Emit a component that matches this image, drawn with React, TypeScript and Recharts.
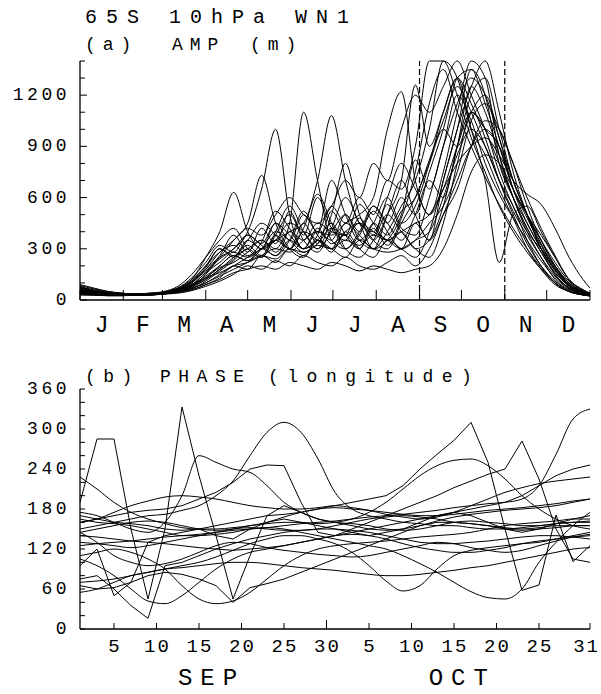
import React from 'react'
import { LineChart, Line, XAxis, YAxis, ReferenceLine } from 'recharts'

// ---- panel (a): amplitude of wave number 1, one line per year ----
const AMP_DAYS = [0, 10, 20, 30, 40, 50, 60, 70, 80, 90, 100, 110, 120, 130, 140, 150, 160, 170, 180, 190, 200, 210, 220, 230, 240, 250, 260, 270, 280, 290, 300, 310, 320, 330, 340, 350, 360, 365]

const amp01 = [60, 45, 35, 30, 30, 35, 40, 60, 90, 140, 200, 260, 230, 300, 260, 350, 300, 420, 330, 380, 300, 450, 380, 520, 600, 820, 1050, 1250, 1100, 900, 700, 520, 380, 250, 140, 70, 40, 30]
const amp02 = [80, 55, 40, 35, 35, 40, 50, 80, 150, 250, 350, 420, 300, 250, 380, 500, 350, 280, 420, 600, 450, 300, 500, 700, 500, 350, 700, 1000, 1350, 1200, 800, 600, 450, 300, 180, 90, 50, 40]
const amp03 = [40, 35, 30, 30, 30, 35, 45, 70, 110, 180, 250, 300, 400, 650, 1000, 500, 300, 350, 450, 300, 250, 350, 500, 400, 300, 250, 450, 800, 1100, 1000, 900, 650, 500, 350, 200, 100, 50, 35]
const amp04 = [30, 30, 25, 25, 30, 30, 40, 55, 80, 120, 180, 250, 300, 350, 280, 450, 1100, 700, 350, 300, 400, 550, 450, 350, 500, 700, 600, 900, 1200, 1300, 1000, 700, 500, 300, 180, 80, 40, 30]
const amp05 = [50, 40, 35, 30, 30, 35, 40, 50, 70, 100, 150, 200, 250, 300, 350, 400, 450, 700, 1080, 700, 450, 400, 600, 800, 650, 500, 750, 1100, 1400, 1300, 850, 600, 400, 250, 120, 60, 35, 25]
const amp06 = [35, 30, 30, 30, 35, 40, 45, 60, 90, 130, 160, 200, 220, 260, 300, 280, 350, 400, 380, 450, 500, 600, 1000, 1220, 700, 500, 650, 900, 1100, 1000, 750, 550, 400, 300, 200, 100, 50, 30]
const amp07 = [70, 50, 40, 35, 30, 30, 35, 50, 80, 150, 250, 350, 450, 730, 450, 300, 250, 350, 300, 250, 350, 300, 280, 300, 350, 400, 600, 850, 1000, 900, 700, 550, 350, 200, 100, 50, 30, 25]
const amp08 = [45, 40, 35, 30, 30, 30, 40, 60, 120, 250, 400, 630, 400, 300, 350, 450, 400, 300, 400, 500, 350, 300, 400, 550, 700, 1000, 1400, 1300, 1000, 850, 650, 480, 300, 180, 90, 50, 30, 25]
const amp09 = [90, 70, 50, 40, 35, 35, 40, 45, 60, 90, 120, 160, 180, 200, 180, 220, 200, 180, 220, 200, 170, 200, 180, 160, 180, 200, 300, 500, 750, 850, 800, 650, 500, 380, 250, 120, 60, 40]
const amp10 = [55, 45, 40, 35, 35, 35, 40, 55, 90, 160, 220, 280, 250, 300, 350, 300, 400, 350, 300, 400, 450, 350, 500, 700, 1260, 900, 1100, 1300, 1000, 700, 220, 500, 550, 400, 250, 120, 60, 40]
const amp11 = [40, 35, 30, 30, 30, 35, 40, 50, 70, 100, 140, 180, 220, 260, 240, 300, 280, 320, 300, 350, 320, 380, 350, 400, 450, 500, 650, 800, 900, 950, 850, 700, 620, 560, 420, 250, 120, 70]
const amp12 = [65, 50, 40, 35, 30, 35, 45, 70, 120, 200, 300, 250, 350, 300, 450, 350, 500, 400, 550, 450, 600, 500, 700, 650, 900, 1400, 1400, 1200, 950, 750, 550, 400, 280, 180, 100, 50, 30, 25]
const amp13 = [30, 28, 25, 25, 28, 30, 35, 45, 60, 90, 130, 200, 180, 260, 220, 300, 260, 350, 280, 400, 300, 250, 350, 300, 250, 400, 700, 1000, 1250, 1400, 1100, 750, 500, 300, 150, 70, 35, 25]
const amp14 = [75, 60, 45, 35, 30, 30, 35, 45, 65, 110, 170, 230, 300, 250, 400, 550, 400, 300, 500, 800, 500, 350, 300, 450, 600, 800, 1000, 900, 1100, 1200, 950, 650, 450, 300, 170, 80, 40, 30]
const amp15 = [50, 40, 35, 30, 30, 30, 35, 40, 55, 80, 110, 150, 200, 180, 230, 200, 260, 220, 200, 250, 200, 180, 220, 260, 200, 300, 500, 700, 900, 1000, 900, 700, 500, 350, 220, 110, 50, 35]
const amp16 = [40, 38, 35, 32, 30, 32, 40, 60, 100, 180, 280, 350, 420, 380, 500, 600, 500, 450, 550, 700, 600, 800, 700, 1000, 1200, 1100, 1250, 1400, 1200, 1000, 800, 600, 420, 280, 150, 70, 35, 28]
const amp17 = [60, 48, 40, 35, 32, 35, 40, 55, 85, 130, 190, 220, 280, 350, 300, 400, 350, 450, 400, 380, 450, 400, 350, 300, 350, 450, 550, 750, 1050, 1150, 1000, 800, 550, 350, 200, 90, 45, 30]
const amp18 = [85, 65, 50, 40, 35, 38, 45, 70, 130, 220, 320, 280, 380, 330, 450, 380, 300, 400, 350, 500, 400, 550, 450, 600, 500, 750, 1000, 1300, 1350, 1150, 900, 650, 480, 320, 180, 85, 40, 30]
const amp19 = [50, 42, 36, 32, 30, 32, 38, 55, 90, 160, 260, 380, 280, 420, 330, 520, 380, 600, 420, 350, 480, 380, 560, 420, 380, 600, 900, 1200, 1050, 800, 620, 480, 350, 230, 130, 65, 35, 28]
const amp20 = [38, 34, 30, 28, 28, 30, 36, 48, 75, 120, 180, 240, 320, 260, 380, 300, 450, 330, 520, 380, 300, 420, 320, 480, 750, 1150, 1350, 1100, 900, 720, 560, 420, 300, 190, 100, 50, 30, 22]
const amp21 = [72, 55, 42, 36, 32, 34, 40, 58, 100, 190, 300, 260, 350, 450, 380, 300, 420, 620, 450, 300, 380, 520, 400, 300, 450, 350, 500, 650, 900, 1050, 1000, 800, 600, 420, 260, 120, 55, 35]
const amp22 = [45, 40, 34, 30, 30, 33, 42, 65, 110, 200, 280, 320, 260, 340, 520, 420, 300, 380, 700, 500, 350, 450, 600, 450, 550, 800, 1100, 1300, 1150, 950, 700, 500, 330, 200, 110, 55, 30, 24]
const amp23 = [58, 46, 38, 33, 31, 34, 40, 52, 80, 130, 200, 260, 230, 300, 400, 350, 280, 330, 420, 380, 560, 450, 350, 400, 300, 350, 550, 900, 1250, 1100, 850, 600, 420, 280, 160, 80, 40, 30]
const amp24 = [62, 50, 42, 36, 33, 36, 44, 62, 105, 170, 240, 300, 380, 320, 260, 350, 520, 380, 300, 450, 380, 300, 350, 500, 820, 650, 900, 1150, 1300, 1200, 950, 700, 500, 330, 190, 90, 45, 32]

const AMP_LINES = [amp01, amp02, amp03, amp04, amp05, amp06, amp07, amp08, amp09, amp10, amp11, amp12,
  amp13, amp14, amp15, amp16, amp17, amp18, amp19, amp20, amp21, amp22, amp23, amp24]

const MONTH_START = [0, 31, 59, 90, 120, 151, 181, 212, 243, 273, 304, 334, 365]
const MONTH_LETTERS = ['J', 'F', 'M', 'A', 'M', 'J', 'J', 'A', 'S', 'O', 'N', 'D']
const MONTH_MID = MONTH_LETTERS.map((_, i) => (MONTH_START[i] + MONTH_START[i + 1]) / 2)
const AMP_TICKS = [0, 100, 200, 300, 400, 500, 600, 700, 800, 900, 1000, 1100, 1200, 1300, 1400]
const AMP_LABELED = [0, 300, 600, 900, 1200]
const WINDOW = [243, 304] // 1 Sep and 1 Nov, the span shown in (b)

// ---- panel (b): phase (longitude), 1 Sep .. 31 Oct ----
const PHASE_DAYS = [0, 2, 4, 6, 8, 10, 12, 14, 16, 18, 20, 22, 24, 26, 28, 30, 32, 34, 36, 38, 40, 42, 44, 46, 48, 50, 52, 54, 56, 58, 60]

const ph01 = [150, 155, 160, 165, 170, 172, 178, 185, 200, 222, 260, 295, 310, 295, 255, 205, 180, 170, 165, 160, 158, 155, 155, 152, 150, 150, 152, 155, 158, 160, 160]
const ph02 = [190, 285, 285, 150, 45, 150, 333, 230, 140, 45, 110, 170, 185, 175, 165, 160, 155, 150, 148, 150, 155, 160, 160, 158, 155, 150, 148, 150, 152, 155, 155]
const ph03 = [170, 165, 160, 158, 155, 150, 148, 150, 155, 160, 165, 170, 172, 175, 180, 185, 190, 195, 200, 215, 240, 262, 283, 310, 250, 150, 58, 66, 171, 101, 125]
const ph04 = [110, 115, 120, 115, 105, 90, 65, 45, 38, 42, 55, 75, 95, 110, 120, 125, 128, 130, 132, 135, 138, 140, 142, 145, 150, 155, 158, 160, 162, 165, 165]
const ph05 = [105, 95, 80, 60, 42, 38, 50, 70, 90, 105, 115, 120, 125, 130, 135, 140, 142, 140, 135, 128, 122, 118, 115, 115, 118, 122, 128, 132, 135, 138, 140]
const ph06 = [75, 80, 60, 35, 16, 95, 100, 110, 120, 128, 135, 140, 145, 148, 150, 150, 148, 145, 140, 135, 130, 128, 128, 130, 132, 135, 138, 140, 140, 138, 135]
const ph07 = [165, 160, 158, 155, 150, 145, 140, 140, 142, 145, 150, 152, 150, 145, 140, 135, 130, 125, 120, 110, 98, 85, 70, 56, 47, 45, 60, 100, 130, 155, 175]
const ph08 = [70, 72, 75, 80, 85, 90, 95, 100, 108, 118, 128, 135, 140, 140, 135, 128, 115, 95, 72, 57, 65, 90, 110, 118, 122, 125, 128, 130, 135, 140, 145]
const ph09 = [175, 170, 160, 150, 145, 160, 200, 260, 250, 240, 235, 215, 190, 175, 165, 160, 158, 155, 150, 148, 150, 155, 160, 162, 160, 158, 155, 155, 158, 160, 162]
const ph10 = [160, 165, 170, 175, 178, 180, 185, 195, 205, 220, 240, 246, 245, 190, 145, 140, 145, 150, 155, 160, 165, 170, 175, 180, 185, 190, 200, 215, 230, 240, 246]
const ph11 = [125, 128, 130, 132, 135, 138, 140, 142, 145, 148, 150, 152, 155, 158, 160, 162, 165, 168, 170, 172, 175, 178, 182, 185, 188, 190, 195, 215, 262, 315, 330]
const ph12 = [140, 138, 135, 132, 130, 128, 125, 122, 120, 118, 120, 122, 125, 130, 135, 140, 150, 160, 170, 180, 190, 200, 212, 222, 232, 240, 282, 225, 150, 105, 100]
const ph13 = [145, 150, 155, 160, 162, 160, 155, 150, 148, 150, 155, 158, 160, 160, 158, 160, 165, 175, 190, 210, 230, 245, 253, 255, 245, 225, 200, 180, 165, 155, 150]
const ph14 = [55, 60, 70, 80, 85, 90, 92, 95, 98, 100, 100, 98, 95, 92, 90, 88, 85, 82, 80, 80, 82, 85, 88, 92, 95, 100, 105, 110, 115, 120, 122]
const ph15 = [65, 60, 62, 70, 80, 85, 82, 75, 65, 40, 62, 68, 75, 85, 95, 105, 115, 125, 135, 145, 155, 162, 168, 172, 175, 178, 180, 182, 185, 190, 195]
const ph16 = [130, 128, 125, 122, 125, 130, 135, 140, 145, 150, 152, 150, 148, 148, 150, 155, 160, 165, 168, 170, 168, 165, 160, 158, 155, 152, 150, 152, 155, 155, 155]
const ph17 = [160, 165, 175, 185, 192, 198, 200, 198, 195, 190, 185, 182, 180, 180, 182, 185, 182, 178, 172, 168, 165, 168, 175, 185, 195, 205, 212, 218, 222, 225, 228]
const ph18 = [145, 130, 110, 100, 95, 98, 105, 115, 125, 130, 128, 122, 118, 115, 112, 110, 108, 110, 115, 120, 125, 130, 128, 122, 118, 115, 118, 125, 132, 138, 142]
const ph19 = [228, 210, 190, 175, 165, 158, 152, 150, 150, 152, 155, 160, 168, 175, 180, 182, 180, 178, 175, 172, 170, 170, 172, 175, 178, 180, 182, 185, 188, 192, 195]
const ph20 = [95, 120, 50, 70, 130, 140, 145, 150, 140, 135, 150, 160, 165, 160, 155, 150, 145, 140, 145, 150, 160, 170, 175, 170, 160, 150, 145, 150, 158, 165, 170]

const PHASE_LINES = [ph01, ph02, ph03, ph04, ph05, ph06, ph07, ph08, ph09, ph10, ph11, ph12, ph13, ph14, ph15, ph16, ph17, ph18, ph19, ph20]
// noisy years are drawn with straight segments
const PHASE_CURVE = ['monotone', 'linear', 'linear', 'monotone', 'monotone', 'linear', 'monotone', 'monotone', 'monotone', 'linear',
  'monotone', 'linear', 'monotone', 'monotone', 'linear', 'monotone', 'monotone', 'monotone', 'monotone', 'linear']

const PHASE_TICKS = [0, 20, 40, 60, 80, 100, 120, 140, 160, 180, 200, 220, 240, 260, 280, 300, 320, 340, 360]
const PHASE_LABELED = [0, 60, 120, 180, 240, 300, 360]
const DAY_TICKS = [4, 9, 14, 19, 24, 29, 34, 39, 44, 49, 54, 60]
const DAY_LABELS = ['5', '10', '15', '20', '25', '30', '5', '10', '15', '20', '25', '31']
const MONTH_NAME_AT = [15, 44.5]
const MONTH_NAMES = ['SEP', 'OCT']

const ampData = AMP_DAYS.map((day, i) => {
  const row: Record<string, number> = { day }
  AMP_LINES.forEach((s, k) => { row['a' + k] = s[i] })
  return row
})
const phaseData = PHASE_DAYS.map((day, i) => {
  const row: Record<string, number> = { day }
  PHASE_LINES.forEach((s, k) => { row['p' + k] = s[i] })
  return row
})

const FONT = '"Liberation Mono", "DejaVu Sans Mono", monospace'
const AXIS = { stroke: '#000', strokeWidth: 1.3 }
const NUM = { fontFamily: FONT, fontSize: 18, letterSpacing: 3.5, fill: '#000' }

const AmpLeftTick = ({ x, y, payload }: any) => {
  const v = payload.value
  const lab = AMP_LABELED.includes(v)
  return (
    <g>
      <line x1={x} x2={x + (lab ? 7 : 5)} y1={y} y2={y} stroke="#000" />
      {lab && <text x={x - 10} y={y} textAnchor="end" dominantBaseline="central" style={NUM}>{v}</text>}
    </g>
  )
}
const PhaseLeftTick = ({ x, y, payload }: any) => {
  const v = payload.value
  const lab = PHASE_LABELED.includes(v)
  return (
    <g>
      <line x1={x} x2={x + 5} y1={y} y2={y} stroke="#000" />
      {lab && <text x={x - 10} y={y} textAnchor="end" dominantBaseline="central" style={NUM}>{v}</text>}
    </g>
  )
}
const RightTick = ({ x, y }: any) => <line x1={x} x2={x - 5} y1={y} y2={y} stroke="#000" />
const TopTick = ({ x, y, payload }: any) => (
  <line x1={x} x2={x} y1={y} y2={y + (payload.value === 29 ? 9 : MONTH_START.includes(payload.value) ? 10 : 6)} stroke="#000" />
)

const MonthTick = ({ x, y, payload }: any) => {
  const m = MONTH_MID.indexOf(payload.value)
  if (m >= 0) {
    return <text x={x} y={y + 26} textAnchor="middle" dominantBaseline="central" style={{ fontFamily: FONT, fontSize: 23, fill: '#000' }}>{MONTH_LETTERS[m]}</text>
  }
  return <line x1={x} x2={x} y1={y} y2={y - 10} stroke="#000" />
}

const DayTick = ({ x, y, payload }: any) => {
  const v = payload.value
  const m = MONTH_NAME_AT.indexOf(v)
  if (m >= 0) {
    return <text x={x + 4} y={y + 49} textAnchor="middle" dominantBaseline="central" style={{ fontFamily: FONT, fontSize: 24, letterSpacing: 8, fill: '#000' }}>{MONTH_NAMES[m]}</text>
  }
  const i = DAY_TICKS.indexOf(v)
  const last = i === DAY_TICKS.length - 1
  return (
    <g>
      <line x1={x} x2={x} y1={y} y2={y - (v === 29 ? 9 : 6)} stroke="#000" />
      <text x={last ? x + 10 : x + 1} y={y + 18} textAnchor={last ? 'end' : 'middle'} dominantBaseline="central"
        style={{ fontFamily: FONT, fontSize: 19, letterSpacing: 2, fill: '#000' }}>{DAY_LABELS[i]}</text>
    </g>
  )
}

const HEAD = { fontFamily: FONT, fill: '#000' }

export default function App() {
  return (
    <div style={{ position: 'absolute', left: 0, top: 0, width: 601, height: 694, background: '#fff' }}>
      <div style={{ position: 'absolute', left: 0, top: 0 }}>
        <LineChart width={601} height={345} data={ampData} margin={{ top: 61, right: 11, bottom: 15, left: 40 }}>
          <XAxis dataKey="day" type="number" domain={[0, 365]} ticks={[...MONTH_START, ...MONTH_MID].sort((a, b) => a - b)}
            interval={0} tickSize={0} tickMargin={0} height={30} axisLine={AXIS} tickLine={false} tick={<MonthTick />} />
          <XAxis xAxisId="top" orientation="top" type="number" domain={[0, 365]} ticks={MONTH_START} interval={0}
            tickSize={0} tickMargin={0} height={0} axisLine={AXIS} tickLine={false} tick={<TopTick />} />
          <YAxis type="number" domain={[0, 1400]} ticks={AMP_TICKS} interval={0} width={40} tickSize={0} tickMargin={0}
            axisLine={AXIS} tickLine={false} tick={<AmpLeftTick />} />
          <YAxis yAxisId="right" orientation="right" type="number" domain={[0, 1400]} ticks={AMP_TICKS} interval={0} width={0}
            tickSize={0} tickMargin={0} axisLine={AXIS} tickLine={false} tick={<RightTick />} />
          {AMP_LINES.map((_, k) => (
            <Line key={k} dataKey={'a' + k} type="monotone" stroke="#000" strokeWidth={1} dot={false} isAnimationActive={false} />
          ))}
          {WINDOW.map(d => <ReferenceLine key={d} x={d} stroke="#000" strokeWidth={1.2} strokeDasharray="6 3" />)}
        </LineChart>
      </div>
      <div style={{ position: 'absolute', left: 0, top: 345 }}>
        <LineChart width={601} height={349} data={phaseData} margin={{ top: 44, right: 11, bottom: 35, left: 40 }}>
          <XAxis dataKey="day" type="number" domain={[0, 60]} ticks={[...DAY_TICKS, ...MONTH_NAME_AT].sort((a, b) => a - b)}
            interval={0} tickSize={0} tickMargin={0} height={30} axisLine={AXIS} tickLine={false} tick={<DayTick />} />
          <XAxis xAxisId="top" orientation="top" type="number" domain={[0, 60]} ticks={DAY_TICKS} interval={0}
            tickSize={0} tickMargin={0} height={0} axisLine={AXIS} tickLine={false} tick={<TopTick />} />
          <YAxis type="number" domain={[0, 360]} ticks={PHASE_TICKS} interval={0} width={40} tickSize={0} tickMargin={0}
            axisLine={AXIS} tickLine={false} tick={<PhaseLeftTick />} />
          <YAxis yAxisId="right" orientation="right" type="number" domain={[0, 360]} ticks={PHASE_TICKS} interval={0} width={0}
            tickSize={0} tickMargin={0} axisLine={AXIS} tickLine={false} tick={<RightTick />} />
          {PHASE_LINES.map((_, k) => (
            <Line key={k} dataKey={'p' + k} type={PHASE_CURVE[k] as any} stroke="#000" strokeWidth={1} dot={false} isAnimationActive={false} />
          ))}
        </LineChart>
      </div>
      <svg width={601} height={694} style={{ position: 'absolute', left: 0, top: 0, pointerEvents: 'none' }}>
        <text x={85} y={23} style={{ ...HEAD, fontSize: 20, letterSpacing: 9 }}>65S 10hPa WN1</text>
        <text x={85} y={50} style={{ ...HEAD, fontSize: 18, letterSpacing: 7 }}>(a)</text>
        <text x={172} y={50} style={{ ...HEAD, fontSize: 18, letterSpacing: 7 }}>AMP</text>
        <text x={250} y={50} style={{ ...HEAD, fontSize: 18, letterSpacing: 7 }}>(m)</text>
        <text x={85} y={382} style={{ ...HEAD, fontSize: 18, letterSpacing: 7.5 }}>(b)</text>
        <text x={160} y={382} style={{ ...HEAD, fontSize: 18, letterSpacing: 7.5 }}>PHASE</text>
        <text x={268} y={382} style={{ ...HEAD, fontSize: 18, letterSpacing: 8.5 }}>(longitude)</text>
      </svg>
    </div>
  )
}
